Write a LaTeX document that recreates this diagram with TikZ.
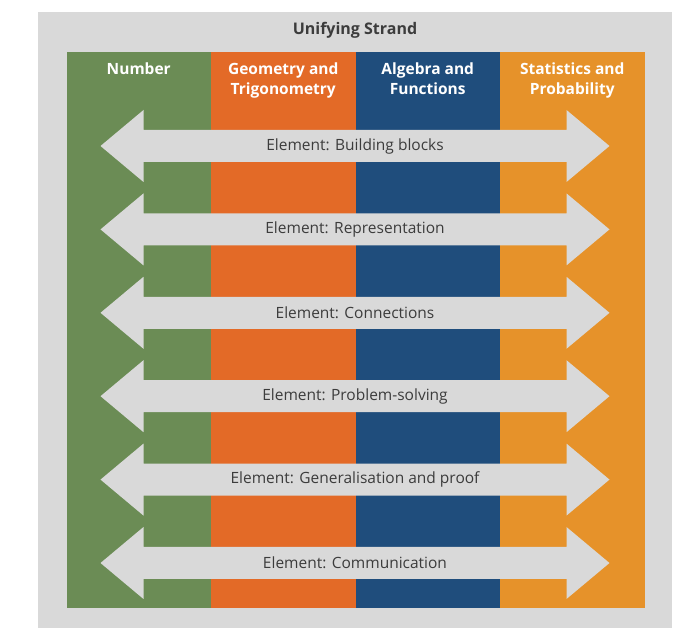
\documentclass[tikz,border=0pt]{standalone}
\usepackage{fontspec}
\setmainfont{Open Sans}
\usepackage{xcolor}
\usetikzlibrary{positioning,calc}

\definecolor{numgreen}{HTML}{6B8C55}
\definecolor{geoorange}{HTML}{E36A27}
\definecolor{algblue}{HTML}{1F4D7C}
\definecolor{statgold}{HTML}{E6922A}
\definecolor{panelgray}{HTML}{D9D9D9}
\definecolor{txtgray}{HTML}{3C3C3C}

\begin{document}
\begin{tikzpicture}[
  x=1pt, y=-1pt,
  every node/.style={outer sep=0pt},
  panel/.style={fill=panelgray},
  col/.style={anchor=north west, minimum width=144.5pt, minimum height=556pt, inner sep=0pt},
  head/.style={anchor=north, inner sep=0pt, align=center, text=white,
               font=\fontsize{15.5}{20}\selectfont\bfseries},
  title/.style={text=txtgray, font=\fontsize{16}{18}\selectfont\bfseries},
  band/.style={fill=panelgray},
  elem/.style={text=txtgray, inner sep=0pt, font=\fontsize{15.5}{18}\selectfont},
]
  \useasboundingbox (0,0) rectangle (681,628);
  \fill[panel] (38,12) rectangle (672,628);
  \node[title] (strand) at (355,30) {Unifying Strand};

  % the four strands
  \node[col, fill=numgreen] (cnum) at (66.5,52) {};
  \node[col, fill=geoorange, right=0pt of cnum] (cgeo) {};
  \node[col, fill=algblue, right=0pt of cgeo] (calg) {};
  \node[col, fill=statgold, right=0pt of calg] (cstat) {};

  \node[head] (hnum) at ([yshift=-11pt]cnum.north) {Number};
  \node[head] (hgeo) at ([yshift=-11pt]cgeo.north) {Geometry and\\Trigonometry};
  \node[head] (halg) at ([yshift=-11pt]calg.north) {Algebra and\\Functions};
  \node[head] (hstat) at ([yshift=-11pt]cstat.north) {Statistics and\\Probability};

  % elements across all strands
  \foreach \lbl [count=\i] in {Building blocks, Representation, Connections,
      Problem-solving, Generalisation and proof, Communication} {
    \pgfmathsetmacro\yc{146+83.4*(\i-1)}
    \fill[band] (100.5,\yc) -- (143.5,\yc-36) -- (143.5,\yc-16) -- (566.5,\yc-16)
      -- (566.5,\yc-36) -- (609.5,\yc) -- (566.5,\yc+36) -- (566.5,\yc+16)
      -- (143.5,\yc+16) -- (143.5,\yc+36) -- cycle;
    \node[elem] (el\i) at (355,\yc) {Element: \lbl};
  }
\end{tikzpicture}
\end{document}
